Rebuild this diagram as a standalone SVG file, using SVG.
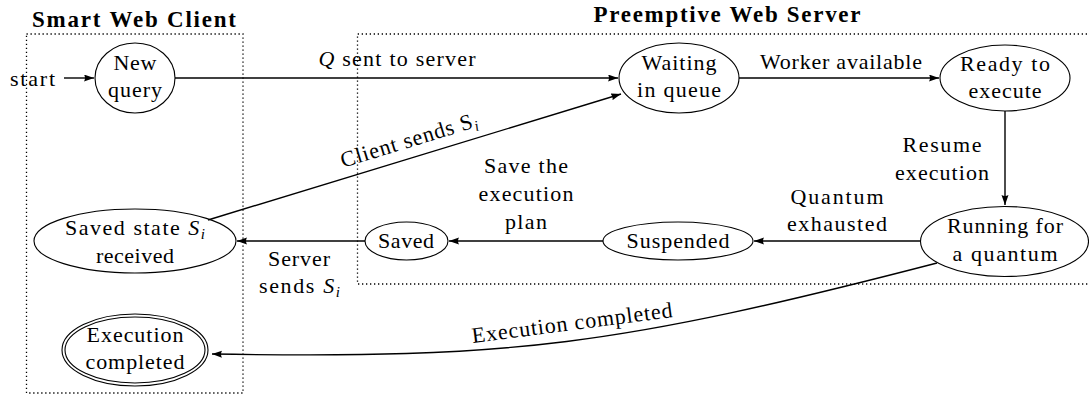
<svg xmlns="http://www.w3.org/2000/svg" width="1089" height="396" viewBox="0 0 1089 396" font-family="'Liberation Serif', serif">
<style>
text{font-family:'Liberation Serif',serif;font-size:22px;fill:#000;text-anchor:middle}
.title{font-weight:bold;font-size:23px}
.st{fill:none;stroke:#000;stroke-width:1.1}
.edge{fill:none;stroke:#000;stroke-width:1.4;marker-end:url(#arr)}
.box{fill:none;stroke:#000;stroke-width:1.3;stroke-dasharray:1.3 2.7}
.it{font-style:italic}
.sub{font-style:italic;font-size:15px}
</style>
<defs>
<marker id="arr" markerUnits="userSpaceOnUse" markerWidth="11" markerHeight="8" refX="10" refY="3.5" orient="auto">
<path d="M0,0 L10,3.5 L0,7 Q2,3.5 0,0 Z" fill="#000"/>
</marker>
</defs>
<rect width="1089" height="396" fill="#fff"/>

<g id="clusters">
<rect class="box" x="26.5" y="34" width="216.5" height="359"/>
<path class="box" d="M1095,34 H357.5 V284 H1095"/>
<text class="title" x="134" y="27" textLength="204">Smart Web Client</text>
<text class="title" x="727" y="22" textLength="267">Preemptive Web Server</text>
</g>

<g id="connectors">
<line class="edge" x1="64" y1="78" x2="94" y2="78"/>
<text x="10" y="86" style="text-anchor:start" textLength="45">start</text>
<line class="edge" x1="175" y1="78" x2="618" y2="78"/>
<text x="397" y="66" textLength="157"><tspan class="it">Q</tspan> sent to server</text>
<line class="edge" x1="739" y1="78" x2="939" y2="78"/>
<text x="841" y="69" textLength="162">Worker available</text>
<line class="edge" x1="1005" y1="111" x2="1005" y2="205"/>
<text x="942" y="152" textLength="79">Resume</text>
<text x="942" y="180" textLength="94">execution</text>
<line class="edge" x1="920" y1="241" x2="754" y2="241"/>
<text x="837" y="204" textLength="93">Quantum</text>
<text x="837" y="231" textLength="100">exhausted</text>
<line class="edge" x1="603" y1="241" x2="449" y2="241"/>
<text x="526" y="173" textLength="84">Save the</text>
<text x="526" y="201" textLength="95">execution</text>
<text x="526" y="229" textLength="42">plan</text>
<line class="edge" x1="365" y1="241" x2="237" y2="241"/>
<text x="299" y="266" textLength="62">Server</text>
<text x="299.5" y="293" textLength="81">sends <tspan class="it">S</tspan><tspan class="sub" dy="4">i</tspan></text>
<line class="edge" x1="208" y1="220" x2="621" y2="94"/>
<text x="411" y="147" transform="rotate(-17 411 147)" textLength="142">Client sends S<tspan class="sub" dy="4">i</tspan></text>
<path class="edge" d="M937,263 C617,346 511,359 212,354"/>
<text x="573" y="330" transform="rotate(-7.4 573 330)" textLength="202">Execution completed</text>
</g>

<g id="new_query">
<ellipse class="st" cx="135" cy="78" rx="40" ry="35"/>
<text x="135" y="70" textLength="43">New</text>
<text x="135" y="97" textLength="54">query</text>
</g>
<g id="waiting">
<ellipse class="st" cx="679" cy="78" rx="60" ry="35"/>
<text x="679" y="70" textLength="75">Waiting</text>
<text x="679" y="97" textLength="84">in queue</text>
</g>
<g id="ready">
<ellipse class="st" cx="1005" cy="78" rx="65" ry="33"/>
<text x="1005" y="71" textLength="90">Ready to</text>
<text x="1005" y="98" textLength="73">execute</text>
</g>
<g id="running">
<ellipse class="st" cx="1004.5" cy="241.5" rx="84" ry="35"/>
<text x="1005" y="233" textLength="116">Running for</text>
<text x="1005" y="261" textLength="105">a quantum</text>
</g>
<g id="suspended">
<ellipse class="st" cx="678" cy="241" rx="75" ry="19"/>
<text x="678" y="248" textLength="103">Suspended</text>
</g>
<g id="saved">
<ellipse class="st" cx="406.5" cy="241" rx="41.5" ry="19"/>
<text x="406" y="248" textLength="56">Saved</text>
</g>
<g id="saved_state">
<ellipse class="st" cx="135" cy="241" rx="101" ry="32"/>
<text x="135" y="235" textLength="140">Saved state <tspan class="it">S</tspan><tspan class="sub" dy="4">i</tspan></text>
<text x="135" y="263" textLength="78">received</text>
</g>
<g id="execution_completed">
<ellipse class="st" cx="135" cy="350" rx="73" ry="36"/>
<ellipse class="st" cx="135" cy="350" rx="70" ry="33"/>
<text x="135" y="342" textLength="97">Execution</text>
<text x="135" y="369" textLength="99">completed</text>
</g>
</svg>
